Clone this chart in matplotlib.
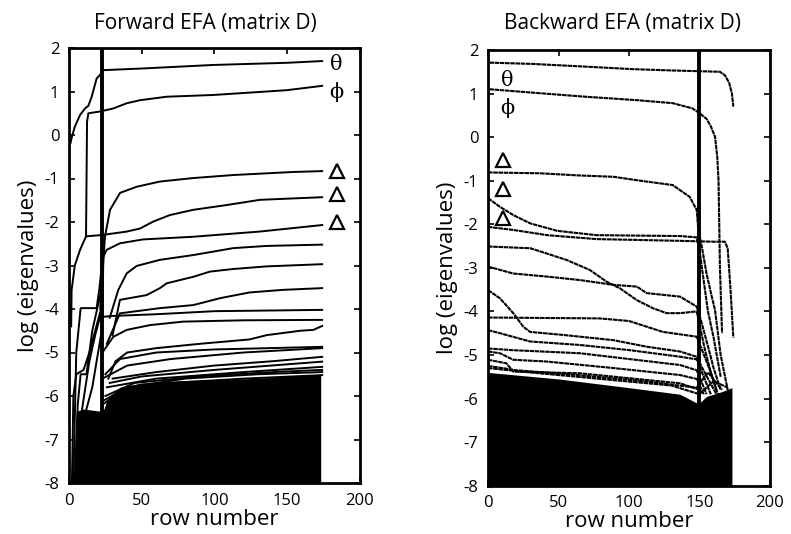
import matplotlib
matplotlib.use("Agg")
import matplotlib.pyplot as plt

# ---------------- Forward EFA (left panel) ----------------
fwd_marker_row = 22.5
fwd_theta_x = [1, 2, 4, 7.6, 11, 13.3, 15.6, 19, 21.3, 23, 51, 99, 150, 174]
fwd_theta_y = [-0.19, -0.04, 0.19, 0.46, 0.61, 0.67, 0.88, 1.30, 1.38, 1.49, 1.53, 1.61, 1.66, 1.70]
fwd_phi_x = [11.7, 12.4, 13.3, 21.3, 30.4, 39.7, 48.8, 67.1, 99.2, 149.6, 174]
fwd_phi_y = [-2.33, 0.30, 0.50, 0.54, 0.61, 0.73, 0.80, 0.88, 0.92, 1.03, 1.13]
fwd_tri1_x = [23, 23.5, 24.7, 28.2, 35.1, 46.5, 62.5, 85.3, 113, 154, 174]
fwd_tri1_y = [-4.2, -3.0, -2.34, -1.72, -1.33, -1.19, -1.07, -0.99, -0.92, -0.85, -0.83]
fwd_tri2_x = [1.5, 1.8, 4, 7.6, 11.7, 22.5, 39.7, 48.8, 57.9, 69.4, 85.4, 108.4, 131.3, 174]
fwd_tri2_y = [-4.4, -3.56, -3.0, -2.64, -2.33, -2.30, -2.22, -2.15, -1.99, -1.84, -1.72, -1.61, -1.49, -1.43]
fwd_minor_x = [
    [21.5, 22.5, 25.9, 35, 51, 85, 131, 174],
    [28, 33.9, 39.7, 46.5, 62.5, 85.4, 113, 136, 174],
    [30, 35, 53.4, 62.5, 67.1, 85.4, 96.9, 113, 136, 174],
    [26, 35, 62.5, 85.4, 104, 124, 147, 174],
    [23, 30, 60, 100, 174],
    [23, 30.4, 39.7, 55.7, 78.6, 120, 174],
    [27, 32, 40, 60, 90, 124, 136, 159, 168, 174],
    [25, 35, 60, 100, 174],
    [23, 40, 70, 120, 174],
    [30, 60, 100, 140, 174],
    [28, 50, 100, 174],
    [26, 60, 120, 174],
    [25, 45, 90, 140, 174],
    [24, 40, 80, 130, 174],
    [23, 35, 70, 120, 174],
    [3, 5, 8, 19, 21, 22.5],
    [4, 6, 8, 12, 16, 22],
    [6, 9, 14, 18, 22],
    [8, 12, 16, 20, 22],
    [2, 3, 5, 10, 14, 18, 22],
]
fwd_minor_y = [
    [-4.0, -2.87, -2.64, -2.49, -2.40, -2.34, -2.22, -2.07],
    [-4.2, -3.56, -3.18, -3.01, -2.87, -2.76, -2.60, -2.55, -2.52],
    [-4.6, -3.79, -3.68, -3.52, -3.41, -3.26, -3.14, -3.08, -3.02, -2.97],
    [-4.8, -4.10, -3.98, -3.91, -3.75, -3.62, -3.56, -3.52],
    [-4.18, -4.16, -4.12, -4.05, -4.02],
    [-5.0, -4.64, -4.48, -4.37, -4.29, -4.26, -4.25],
    [-5.6, -5.2, -5.0, -4.9, -4.80, -4.70, -4.60, -4.50, -4.48, -4.39],
    [-5.5, -5.15, -5.0, -4.93, -4.87],
    [-5.6, -5.3, -5.15, -5.0, -4.90],
    [-5.6, -5.45, -5.3, -5.2, -5.10],
    [-5.7, -5.55, -5.4, -5.21],
    [-5.8, -5.6, -5.45, -5.33],
    [-6.0, -5.7, -5.55, -5.45, -5.40],
    [-6.1, -5.8, -5.6, -5.5, -5.45],
    [-6.2, -5.9, -5.7, -5.6, -5.52],
    [-8, -5.0, -3.98, -3.98, -3.5, -3.0],
    [-8, -6.2, -5.5, -5.5, -4.5, -3.6],
    [-8, -6.3, -5.2, -4.6, -4.1],
    [-8, -6.3, -5.8, -5.0, -4.6],
    [-8, -6.0, -5.5, -5.4, -5.0, -4.5, -4.0],
]
fwd_dense_x = [3, 5, 10, 22, 24, 26, 30, 35, 50, 75, 100, 125, 150, 173]
fwd_dense_top = [-8, -6.35, -6.3, -6.35, -6.3, -6.1, -5.95, -5.8, -5.7, -5.65, -5.62, -5.6, -5.55, -5.5]

# ---------------- Backward EFA (right panel) ----------------
bwd_marker_row = 149.6
bwd_theta_x = [1, 32, 68, 103, 131, 164.5, 168, 171, 173, 174]
bwd_theta_y = [1.71, 1.68, 1.62, 1.56, 1.53, 1.50, 1.42, 1.25, 1.00, 0.70]
bwd_phi_x = [1, 32, 68, 105, 131, 145, 150, 155, 158, 161, 162.6, 163.5, 164.5, 166]
bwd_phi_y = [1.10, 1.02, 0.93, 0.85, 0.78, 0.66, 0.55, 0.42, 0.25, 0.01, -0.45, -1.0, -3.0, -4.5]
bwd_tri1_x = [0, 37, 65, 89, 108, 131, 143, 148, 149.2, 151.6, 155, 158.7, 161, 165, 170]
bwd_tri1_y = [-0.81, -0.83, -0.88, -0.91, -1.0, -1.10, -1.37, -1.67, -2.13, -2.51, -3.13, -3.66, -3.97, -5.0, -5.8]
bwd_tri2_x = [0, 8.5, 18, 30, 49, 77, 136, 148, 150, 153, 156, 160, 165]
bwd_tri2_y = [-1.40, -1.60, -1.79, -1.98, -2.15, -2.25, -2.27, -2.30, -2.6, -3.3, -4.0, -4.6, -5.5]
bwd_tri3_x = [0, 18, 42, 77, 136, 160, 168, 170, 172, 174]
bwd_tri3_y = [-2.06, -2.13, -2.25, -2.34, -2.38, -2.40, -2.40, -2.55, -3.5, -4.6]
bwd_minor_x = [
    [0, 30, 41.6, 55.8, 72.3, 84.2, 93.6, 105.5, 117.2, 126.7, 136.2, 148, 150, 154, 158, 162],
    [0, 17.9, 41.6, 65.2, 88.9, 105.5, 112.6, 124.4, 136.2, 148, 151, 156, 160, 165],
    [0, 8.5, 17.9, 25, 29.8, 53.4, 88.9, 112.6, 136.2, 148, 152, 157, 162],
    [0, 79, 100, 124, 148, 152, 158, 163],
    [0, 8.5, 29.8, 65.2, 100.7, 136.2, 148, 153, 158],
    [0, 17.9, 65.2, 136.2, 148, 155],
    [0, 8.5, 17.9, 41.6, 88.9, 136.2, 148, 153],
    [0, 13, 17.9, 65.2, 136.2, 150],
    [0, 20, 60, 110, 148, 156, 166],
    [0, 30, 80, 130, 150, 160, 170],
]
bwd_minor_y = [
    [-2.51, -2.55, -2.67, -2.82, -3.05, -3.32, -3.47, -3.74, -3.93, -4.04, -4.04, -4.0, -4.3, -4.9, -5.4, -5.8],
    [-2.97, -3.13, -3.20, -3.28, -3.39, -3.43, -3.58, -3.62, -3.66, -3.89, -4.2, -4.8, -5.3, -5.8],
    [-3.51, -3.70, -4.04, -4.35, -4.47, -4.54, -4.66, -4.81, -4.92, -5.04, -5.3, -5.6, -5.9],
    [-4.14, -4.16, -4.22, -4.47, -4.58, -4.9, -5.4, -5.9],
    [-4.43, -4.50, -4.69, -4.77, -4.89, -5.04, -5.1, -5.5, -5.9],
    [-4.85, -4.89, -4.96, -5.23, -5.35, -5.9],
    [-4.92, -4.96, -5.11, -5.15, -5.30, -5.46, -5.55, -5.9],
    [-5.11, -5.19, -5.38, -5.42, -5.65, -5.8],
    [-5.25, -5.35, -5.45, -5.6, -5.75, -5.4, -5.8],
    [-5.3, -5.4, -5.55, -5.7, -5.9, -5.6, -5.75],
]
bwd_dense_x = [0, 50, 100, 136, 148, 150, 155, 165, 173]
bwd_dense_top = [-5.4, -5.55, -5.75, -5.9, -6.1, -6.1, -5.95, -5.85, -5.75]

# label positions
fwd_sym_x = [184, 184]
fwd_sym_y = [1.61, 0.99]
fwd_tri_x = [184, 184, 184]
fwd_tri_y = [-0.83, -1.36, -2.0]
bwd_sym_x = [14, 14]
bwd_sym_y = [1.31, 0.67]
bwd_tri_x = [10.6, 10.6, 10.6]
bwd_tri_y = [-0.52, -1.19, -1.86]
symbols = ["\u03b8", "\u03d5"]

xticks = [0, 50, 100, 150, 200]
yticks = [-8, -7, -6, -5, -4, -3, -2, -1, 0, 1, 2]

plt.rcParams['font.family'] = ['Open Sans', 'DejaVu Sans']
plt.rcParams['axes.unicode_minus'] = False

W, H = 791, 534
fig = plt.figure(figsize=(W / 100, H / 100), dpi=100)
axL = fig.add_axes([69 / W, 1 - 483 / H, (360 - 69) / W, (483 - 48) / H])
axR = fig.add_axes([488 / W, 1 - 485.7 / H, (770 - 488) / W, (485.7 - 50) / H])

LW = 1.4
solid = dict(color='black', lw=LW, solid_joinstyle='round')
dashed = dict(color='black', lw=1.5, linestyle=(0, (2.2, 0.3)))

# left
axL.fill_between(fwd_dense_x, fwd_dense_top, -8, color='black', lw=0)
for xs, ys in zip(fwd_minor_x, fwd_minor_y):
    axL.plot(xs, ys, **solid)
axL.plot(fwd_theta_x, fwd_theta_y, **solid)
axL.plot(fwd_phi_x, fwd_phi_y, **solid)
axL.plot(fwd_tri1_x, fwd_tri1_y, **solid)
axL.plot(fwd_tri2_x, fwd_tri2_y, **solid)
axL.axvline(fwd_marker_row, color='black', lw=2.8)

# right
axR.fill_between(bwd_dense_x, bwd_dense_top, -8, color='black', lw=0)
for xs, ys in zip(bwd_minor_x, bwd_minor_y):
    axR.plot(xs, ys, **dashed)
axR.plot(bwd_theta_x, bwd_theta_y, **dashed)
axR.plot(bwd_phi_x, bwd_phi_y, **dashed)
axR.plot(bwd_tri1_x, bwd_tri1_y, **dashed)
axR.plot(bwd_tri2_x, bwd_tri2_y, **dashed)
axR.plot(bwd_tri3_x, bwd_tri3_y, **dashed)
axR.axvline(bwd_marker_row, color='black', lw=2.8)

for ax, sx, sy, tx, ty in [(axL, fwd_sym_x, fwd_sym_y, fwd_tri_x, fwd_tri_y),
                           (axR, bwd_sym_x, bwd_sym_y, bwd_tri_x, bwd_tri_y)]:
    for s, x, y in zip(symbols, sx, sy):
        ax.text(x, y, s, family='DejaVu Serif', fontsize=15, ha='center', va='center')
    ax.plot(tx, ty, linestyle='none', marker='^', ms=9.5, mfc='white', mec='black', mew=1.6, clip_on=False)

for ax in (axL, axR):
    ax.set_xlim(0, 200)
    ax.set_ylim(-8, 2)
    ax.set_xticks(xticks)
    ax.set_yticks(yticks)
    ax.tick_params(direction='in', top=True, right=True, length=4, width=1.2,
                   labelsize=12, pad=7)
    for sp in ax.spines.values():
        sp.set_linewidth(2.0)
    ax.set_xlabel('row number', fontsize=16, labelpad=0)
    ax.set_ylabel('log (eigenvalues)', fontsize=16, labelpad=4)

fig.text(205 / W, 1 - 24 / H, 'Forward EFA (matrix D)', fontsize=15, ha='center', va='center')
fig.text(622 / W, 1 - 24 / H, 'Backward EFA (matrix D)', fontsize=15, ha='center', va='center')

fig.savefig('out.png', dpi=100)
